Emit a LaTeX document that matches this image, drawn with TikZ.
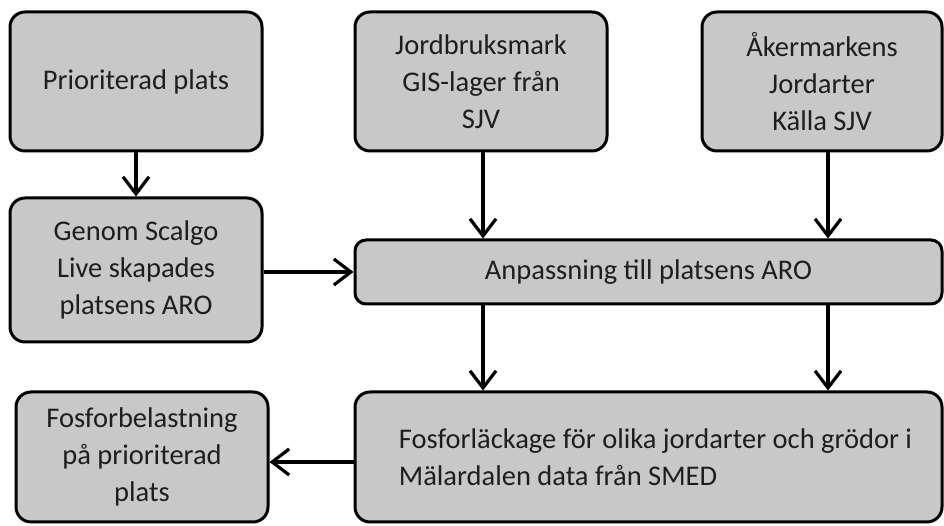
\documentclass[tikz,border=0pt]{standalone}
\usepackage{fontspec}
\setmainfont{Carlito}
\usetikzlibrary{arrows.meta}
\definecolor{boxfill}{HTML}{C8C8C8}
\definecolor{inktext}{HTML}{1E1E1E}
\tikzset{
  flowbox/.style={draw=black, line width=3pt, fill=boxfill, rounded corners=15pt,
    inner sep=0pt, text=inktext, font=\fontsize{28.5}{37}\selectfont, align=center},
  flowarrow/.style={line width=3.2pt, -{Straight Barb[length=17pt,width=26pt,line width=3.2pt]}}
}
\begin{document}
\begin{tikzpicture}[x=1pt,y=1pt]
  \useasboundingbox (0,0) rectangle (944,526);
  % top row
  \node[flowbox, minimum width=252pt, minimum height=139pt] (prio) at (136,444.5) {Prioriterad plats};
  \node[flowbox, minimum width=252pt, minimum height=139pt] (jord) at (481,444.5) {Jordbruksmark\\GIS-lager från\\SJV};
  \node[flowbox, minimum width=240pt, minimum height=139pt] (aker) at (822,444.5) {Åkermarkens\\Jordarter\\Källa SJV};
  % middle row
  \node[flowbox, minimum width=252pt, minimum height=144pt] (scal) at (136,256) {Genom Scalgo\\Live skapades\\platsens ARO};
  \node[flowbox, rounded corners=11pt, minimum width=587pt, minimum height=64pt] (anp) at (648.5,254) {Anpassning till platsens ARO};
  % bottom row
  \node[flowbox, minimum width=252pt, minimum height=130pt] (bel) at (142,69) {Fosforbelastning\\på prioriterad\\plats};
  \node[flowbox, minimum width=587pt, minimum height=130pt, align=left] (lack) at (648.5,69)
    {\hspace*{14pt}Fosforläckage för olika jordarter och grödor i\\\hspace*{14pt}Mälardalen data från SMED};
  % connectors
  \draw[flowarrow] (prio.south) -- (scal.north);
  \draw[flowarrow] (jord.south -| 483,0) -- (anp.north -| 483,0);
  \draw[flowarrow] (aker.south -| 828,0) -- (anp.north -| 828,0);
  \draw[flowarrow] (scal.east |- 0,254) -- (anp.west);
  \draw[flowarrow] (anp.south -| 483,0) -- (lack.north -| 483,0);
  \draw[flowarrow] (anp.south -| 828,0) -- (lack.north -| 828,0);
  \draw[flowarrow] (lack.west |- 0,64) -- (bel.east |- 0,64);
\end{tikzpicture}
\end{document}
